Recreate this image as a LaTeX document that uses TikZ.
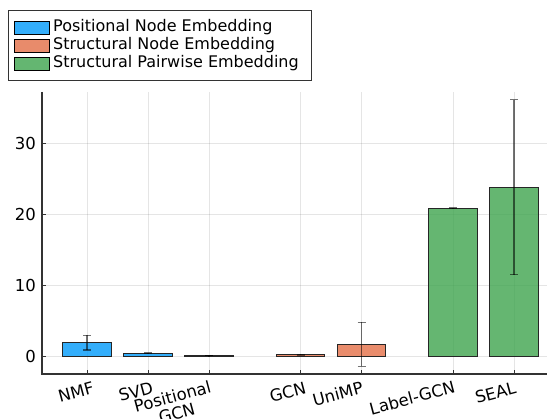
\documentclass[tikz,border=0pt]{standalone}
\usepackage{fontspec}
\setmainfont{DejaVu Sans}
\definecolor{cblue}{HTML}{009AFA}
\definecolor{corange}{HTML}{E36F47}
\definecolor{cgreen}{HTML}{3EA44E}
\begin{document}
\begin{tikzpicture}[x=1pt,y=-1pt,
  barbox/.style={draw=black!85, line width=0.9pt, fill opacity=0.8},
  errbar/.style={draw=black, draw opacity=0.55, line width=1.1pt},
  gridline/.style={draw=black, draw opacity=0.1, line width=0.6pt},
  spine/.style={draw=black!80, line width=1.1pt},
  ticklab/.style={font=\fontsize{16.5}{17}\selectfont, inner sep=0pt},
  xlab/.style={ticklab, rotate=15, anchor=north east, align=center},
  leglab/.style={font=\fontsize{16}{19}\selectfont, inner sep=0pt, anchor=west},
  swatch/.style={draw=black, line width=0.8pt, fill opacity=0.8}]
\useasboundingbox (0,0) rectangle (547,419);
% grid (pixel coordinates)
\foreach \px in {87,148,209,300.5,361.5,453,514}
  \draw[gridline] (\px,92) -- (\px,374);
\foreach \py in {356,285,214,143}
  \draw[gridline] (42,\py) -- (547,\py);
% data scope
\begin{scope}[shift={(26,356)}, x=61pt, y=7.1pt]
  \filldraw[barbox, fill=cblue] (0.6,0) rectangle (1.4,1.87);
  \filldraw[barbox, fill=cblue] (1.6,0) rectangle (2.4,0.42);
  \filldraw[barbox, fill=cblue] (2.6,0) rectangle (3.4,0.05);
  \filldraw[barbox, fill=corange] (4.1,0) rectangle (4.9,0.17);
  \filldraw[barbox, fill=corange] (5.1,0) rectangle (5.9,1.65);
  \filldraw[barbox, fill=cgreen] (6.6,0) rectangle (7.4,20.85);
  \filldraw[barbox, fill=cgreen] (7.6,0) rectangle (8.4,23.8);
  % error bars
  \foreach \x/\lo/\hi in {1/0.84/2.9, 2/0.38/0.46, 3/0.03/0.07, 4.5/0.12/0.22, 5.5/-1.45/4.75, 7/20.8/20.9, 8/11.45/36.1}{
    \draw[errbar] (\x,\lo) -- (\x,\hi);
    \draw[errbar] ([xshift=-4pt]\x,\lo) -- ([xshift=4pt]\x,\lo);
    \draw[errbar] ([xshift=-4pt]\x,\hi) -- ([xshift=4pt]\x,\hi);
  }
\end{scope}
% spines and ticks
\draw[spine] (42,92) -- (42,374) -- (547,374);
\foreach \py in {356,285,214,143}
  \draw[spine, line width=0.8pt] (42,\py) -- (46,\py);
\foreach \px in {87,148,209,300.5,361.5,453,514}
  \draw[spine, line width=0.8pt] (\px,374) -- (\px,370);
% y tick labels
\node[ticklab, anchor=east] (y0) at (36,356) {0};
\node[ticklab, anchor=east] (y10) at (36,285) {10};
\node[ticklab, anchor=east] (y20) at (36,214) {20};
\node[ticklab, anchor=east] (y30) at (36,143) {30};
% x tick labels
\node[xlab] (xnmf) at (92,381) {NMF};
\node[xlab] (xsvd) at (151,381) {SVD};
\node[xlab] (xpgcn) at (209,380) {Positional\\GCN};
\node[xlab] (xgcn) at (304,381) {GCN};
\node[xlab] (xunimp) at (361,381) {UniMP};
\node[xlab] (xlgcn) at (453,380) {Label-GCN};
\node[xlab] (xseal) at (514,381) {SEAL};
% legend
\draw[draw=black!80, line width=0.9pt, fill=white] (8,10) rectangle (311,80);
\filldraw[swatch, fill=cblue] (14,21) rectangle (49,34);
\filldraw[swatch, fill=corange] (14,39) rectangle (49,52.5);
\filldraw[swatch, fill=cgreen] (14,57) rectangle (49,70);
\node[leglab] (l1) at (53,27.5) {Positional Node Embedding};
\node[leglab] (l2) at (53,45.5) {Structural Node Embedding};
\node[leglab] (l3) at (53,63.5) {Structural Pairwise Embedding};
\end{tikzpicture}
\end{document}
